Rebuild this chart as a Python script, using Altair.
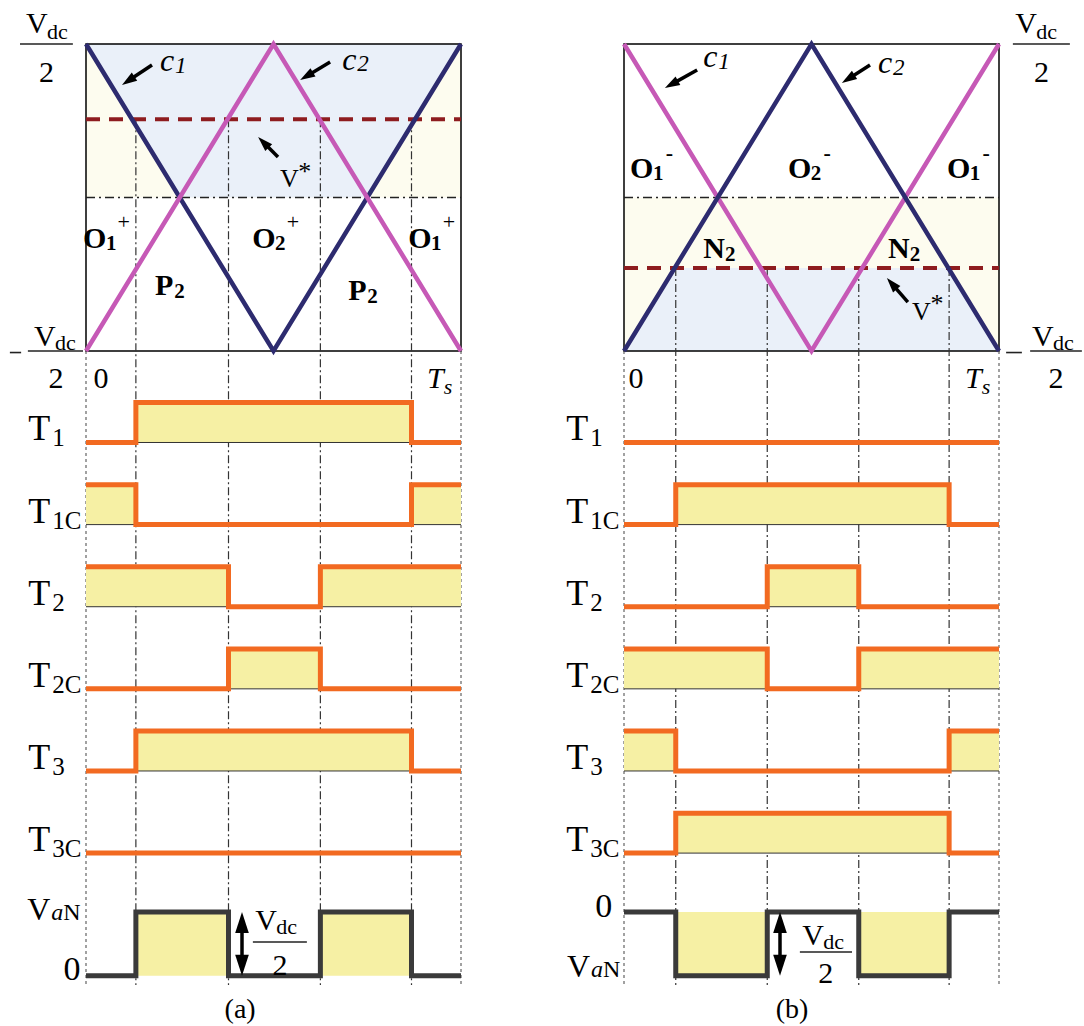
import math
import altair as alt
import pandas as pd

FONT = "Liberation Serif"
NAVY = "#2d2b6f"
MAGENTA = "#c659b6"
VREF_COLOR = "#8e1c1f"
ORANGE = "#f26a21"
FILL = "#f6f0a4"
DARK = "#3a3a3a"
BLUE = "#eaf0f9"
TINT = "#fdfcef"

# ---- data: one switching period, t in Ts, carrier level in units of Vdc/2 ----
CARRIER_T = [0.0, 0.5, 1.0]
CARRIER_DOWN = [1.0, -1.0, 1.0]   # starts at +Vdc/2
CARRIER_UP = [-1.0, 1.0, -1.0]    # starts at -Vdc/2

VREF = {"a": 0.51, "b": -0.46}
EDGES = {"a": [0.133, 0.380, 0.625, 0.868], "b": [0.138, 0.382, 0.626, 0.867]}

# light-blue region inside the carrier box
BLUE_T = {"a": [0.0, 0.25, 0.75, 1.0], "b": [0.0, 0.135, 0.865, 1.0]}
BLUE_LO = {"a": [1.0, 0.0, 0.0, 1.0], "b": [-1.0, -1.0, -1.0, -1.0]}
BLUE_HI = {"a": [1.0, 1.0, 1.0, 1.0], "b": [-1.0, -0.46, -0.46, -1.0]}
TINT_BAND = {"a": (0.0, 1.0), "b": (-1.0, 0.0)}

SIGNALS = ["T1", "T1C", "T2", "T2C", "T3", "T3C"]
STATES = {
    "a": {"T1": [0, 1, 1, 1, 0], "T1C": [1, 0, 0, 0, 1], "T2": [1, 1, 0, 1, 1],
          "T2C": [0, 0, 1, 0, 0], "T3": [0, 1, 1, 1, 0], "T3C": [0, 0, 0, 0, 0]},
    "b": {"T1": [0, 0, 0, 0, 0], "T1C": [0, 1, 1, 1, 0], "T2": [0, 0, 1, 0, 0],
          "T2C": [1, 1, 0, 1, 1], "T3": [1, 0, 0, 0, 1], "T3C": [0, 1, 1, 1, 0]},
}
VAN = {"a": [0, 1, 0, 1, 0], "b": [0, -1, 0, -1, 0]}

# ---- layout (diagram units) ----
PANEL_W = 542
PANEL_H = 1026
BOX_LEFT = {"a": 86, "b": 82}
PX_T = 375.0
PX_L = 153.5
Y_MAX = 1 + 44 / PX_L
Y_MIN = Y_MAX - PANEL_H / PX_L
ROW_LOW0 = -1.596
ROW_PITCH = 0.535
ROW_AMP = 0.26
VAN_TOP = -4.655
VAN_BOT = -5.07
GUIDE_BOTTOM = -5.13
HEAD_SHAPE = "M0,-1L0.65,1L-0.65,1Z"

# annotation arrows: tail (t, level) -> tip (t, level)
ARROWS = [
    ("a", 0.176, 0.863, 0.096, 0.733), ("a", 0.651, 0.883, 0.571, 0.765),
    ("a", 0.512, 0.264, 0.459, 0.394),
    ("b", 0.195, 0.831, 0.109, 0.713), ("b", 0.656, 0.863, 0.581, 0.746),
    ("b", 0.757, -0.681, 0.701, -0.524),
]
DOUBLE_T = {"a": 0.416, "b": 0.416}

# fraction bars / minus signs: (panel, t, t2, level)
BARS = [
    ("a", -0.176, -0.035, 1.0), ("a", -0.155, -0.008, -1.0), ("a", -0.203, -0.173, -1.01),
    ("a", 0.445, 0.589, -4.850),
    ("b", 1.037, 1.189, 1.0), ("b", 1.083, 1.221, -1.0), ("b", 1.019, 1.061, -1.01),
    ("b", 0.469, 0.608, -4.915),
]

TEXTS = []


def add(p, text, t, y, size, style="normal", align="left"):
    TEXTS.append(dict(panel=p, text=text, t=t, y=y, size=size, style=style, align=align))


# axis fractions, 0 and Ts
add("a", "V", -0.160, 1.07, 30); add("a", "dc", -0.104, 1.03, 22); add("a", "2", -0.1055, 0.752, 30, align="center")
add("a", "V", -0.139, -0.967, 30); add("a", "dc", -0.083, -0.993, 22); add("a", "2", -0.080, -1.241, 30, align="center")
add("b", "V", 1.043, 1.07, 30); add("b", "dc", 1.099, 1.03, 22); add("b", "2", 1.113, 0.752, 30, align="center")
add("b", "V", 1.088, -0.967, 30); add("b", "dc", 1.144, -0.993, 22); add("b", "2", 1.152, -1.241, 30, align="center")
for p, z in (("a", 0.04), ("b", 0.032)):
    add(p, "0", z, -1.241, 30, align="center")
    add(p, "T", 0.909, -1.241, 30, "italic")
    add(p, "s", 0.954, -1.28, 22, "italic")

# region labels
for t, sub in ((-0.008, "1"), (0.443, "2"), (0.859, "1")):
    add("a", "O", t, -0.329, 30, "bold")
    add("a", sub, t + 0.061, -0.342, 21, "bold")
    add("a", "+", t + 0.092, -0.205, 22)
add("a", "P", 0.184, -0.635, 30, "bold"); add("a", "2", 0.184 + 0.051, -0.655, 21, "bold")
add("a", "P", 0.699, -0.668, 30, "bold"); add("a", "2", 0.699 + 0.051, -0.687, 21, "bold")
for t, sub in ((0.016, "1"), (0.437, "2"), (0.861, "1")):
    add("b", "O", t, 0.127, 30, "bold")
    add("b", sub, t + 0.061, 0.114, 21, "bold")
    add("b", "-", t + 0.095, 0.244, 22, "bold")
add("b", "N", 0.211, -0.394, 30, "bold"); add("b", "2", 0.211 + 0.058, -0.414, 21, "bold")
add("b", "N", 0.704, -0.394, 30, "bold"); add("b", "2", 0.704 + 0.058, -0.414, 21, "bold")

# carrier and reference names
add("a", "c", 0.197, 0.824, 32, "italic"); add("a", "1", 0.197 + 0.040, 0.811, 23, "italic")
add("a", "c", 0.683, 0.830, 32, "italic"); add("a", "2", 0.683 + 0.040, 0.824, 23, "italic")
add("a", "V", 0.517, 0.068, 26); add("a", "*", 0.566, 0.114, 26)
add("b", "c", 0.211, 0.850, 32, "italic"); add("b", "1", 0.211 + 0.040, 0.837, 23, "italic")
add("b", "c", 0.677, 0.811, 32, "italic"); add("b", "2", 0.677 + 0.040, 0.800, 23, "italic")
add("b", "V", 0.768, -0.798, 26); add("b", "*", 0.817, -0.746, 26)

# switch rows
for p in ("a", "b"):
    for k, sig in enumerate(SIGNALS):
        low = ROW_LOW0 - k * ROW_PITCH
        add(p, "T", -0.154, low + 0.013, 36)
        add(p, sig[1:], -0.154 + 0.064, low - 0.026, 25)

# pole voltage row
add("a", "V", -0.157, -4.707, 32); add("a", "a", -0.093, -4.707, 24, "italic"); add("a", "N", -0.061, -4.707, 24)
add("a", "0", -0.060, -5.098, 34)
add("b", "0", -0.077, -4.687, 34)
add("b", "V", -0.152, -5.078, 32); add("b", "a", -0.088, -5.078, 24, "italic"); add("b", "N", -0.056, -5.078, 24)
add("a", "V", 0.451, -4.772, 30); add("a", "dc", 0.507, -4.798, 22); add("a", "2", 0.517, -5.065, 30, align="center")
add("b", "V", 0.475, -4.870, 30); add("b", "dc", 0.531, -4.896, 22); add("b", "2", 0.538, -5.117, 30, align="center")

# captions
add("a", "(a)", 0.411, -5.345, 28, align="center")
add("b", "(b)", 0.448, -5.345, 28, align="center")


def head(tip_t, tip_y, ux, uy, length):
    """Arrow-head centre and rotation for a head whose tip sits at (tip_t, tip_y)."""
    ct = tip_t - ux * length / 2 / PX_T
    cy = tip_y + uy * length / 2 / PX_L
    ang = math.degrees(math.atan2(ux, -uy)) % 360
    return ct, cy, ang


def panel_chart(p):
    xs = alt.Scale(domain=[-BOX_LEFT[p] / PX_T, (PANEL_W - BOX_LEFT[p]) / PX_T], nice=False, zero=False)
    ys = alt.Scale(domain=[Y_MIN, Y_MAX], nice=False, zero=False)

    def X(f="t"):
        return alt.X(f"{f}:Q", scale=xs, axis=None)

    def Y(f="y"):
        return alt.Y(f"{f}:Q", scale=ys, axis=None, stack=None)

    layers = []
    lo, hi = TINT_BAND[p]
    box = pd.DataFrame([dict(t=0.0, t2=1.0, y=-1.0, y2=1.0)])
    layers.append(alt.Chart(pd.DataFrame([dict(t=0.0, t2=1.0, y=lo, y2=hi)])).mark_rect(color=TINT)
                  .encode(x=X(), x2="t2:Q", y=Y(), y2="y2:Q"))
    blue = pd.DataFrame(dict(t=BLUE_T[p], y=BLUE_LO[p], y2=BLUE_HI[p]))
    layers.append(alt.Chart(blue).mark_area(color=BLUE, opacity=1)
                  .encode(x=X(), y=Y(), y2="y2:Q"))
    layers.append(alt.Chart(box).mark_rect(filled=False, stroke="black", strokeWidth=1.5)
                  .encode(x=X(), x2="t2:Q", y=Y(), y2="y2:Q"))
    layers.append(alt.Chart(pd.DataFrame([dict(t=0.0, t2=1.0, y=0.0)]))
                  .mark_rule(color="#222", strokeWidth=1.3, strokeDash=[9, 4, 2, 4])
                  .encode(x=X(), x2="t2:Q", y=Y()))
    # guide lines through the switching instants
    guides = pd.DataFrame(dict(t=EDGES[p], y=[VREF[p]] * 4, y2=[GUIDE_BOTTOM] * 4))
    layers.append(alt.Chart(guides).mark_rule(color="#333", strokeWidth=1.2, strokeDash=[8, 3, 2, 3])
                  .encode(x=X(), y=Y(), y2="y2:Q"))
    ends = pd.DataFrame(dict(t=[0.0, 1.0], y=[-1.0, -1.0], y2=[GUIDE_BOTTOM] * 2))
    layers.append(alt.Chart(ends).mark_rule(color="#555", strokeWidth=1.1, strokeDash=[3, 3])
                  .encode(x=X(), y=Y(), y2="y2:Q"))
    # reference
    layers.append(alt.Chart(pd.DataFrame([dict(t=0.0, t2=1.0, y=VREF[p])]))
                  .mark_rule(color=VREF_COLOR, strokeWidth=4, strokeDash=[14, 9])
                  .encode(x=X(), x2="t2:Q", y=Y()))
    # carriers
    down_col, up_col = (NAVY, MAGENTA) if p == "a" else (MAGENTA, NAVY)
    for vals, col in ((CARRIER_DOWN, down_col), (CARRIER_UP, up_col)):
        layers.append(alt.Chart(pd.DataFrame(dict(t=CARRIER_T, y=vals)))
                      .mark_line(color=col, strokeWidth=4.5, strokeJoin="miter")
                      .encode(x=X(), y=Y()))

    # switching waveforms
    bounds = [0.0] + EDGES[p] + [1.0]
    rows = []
    base = []
    for k, sig in enumerate(SIGNALS):
        low = ROW_LOW0 - k * ROW_PITCH
        st = STATES[p][sig] + [STATES[p][sig][-1]]
        for i, (t, s) in enumerate(zip(bounds, st)):
            rows.append(dict(sig=sig, i=i, t=t, y=low + s * ROW_AMP, y2=low))
        base.append(dict(t=0.0, t2=1.0, y=low))
    wf = pd.DataFrame(rows)
    layers.append(alt.Chart(wf).mark_area(color=FILL, interpolate="step-after", opacity=1)
                  .encode(x=X(), y=Y(), y2="y2:Q", detail="sig:N"))
    layers.append(alt.Chart(pd.DataFrame(base)).mark_rule(color="#333", strokeWidth=1)
                  .encode(x=X(), x2="t2:Q", y=Y()))
    layers.append(alt.Chart(wf).mark_line(color=ORANGE, strokeWidth=5, interpolate="step-after",
                                          strokeJoin="miter", strokeCap="butt")
                  .encode(x=X(), y=Y(), detail="sig:N", order="i:Q"))

    # pole voltage
    zero = VAN_BOT if p == "a" else VAN_TOP
    amp = VAN_TOP - VAN_BOT
    st = VAN[p] + [VAN[p][-1]]
    van = pd.DataFrame([dict(i=i, t=t, y=zero + s * amp, y2=zero) for i, (t, s) in enumerate(zip(bounds, st))])
    layers.append(alt.Chart(van).mark_area(color=FILL, interpolate="step-after", opacity=1)
                  .encode(x=X(), y=Y(), y2="y2:Q"))
    layers.append(alt.Chart(van).mark_line(color=DARK, strokeWidth=5, interpolate="step-after",
                                           strokeJoin="miter")
                  .encode(x=X(), y=Y(), order="i:Q"))

    # arrows
    shafts, heads = [], []
    for q, t0, y0, t1, y1 in ARROWS:
        if q != p:
            continue
        dxp = (t1 - t0) * PX_T
        dyp = -(y1 - y0) * PX_L
        L = math.hypot(dxp, dyp)
        ux, uy = dxp / L, dyp / L
        ct, cy, ang = head(t1, y1, ux, uy, 15)
        shafts.append(dict(t=t0, y=y0, t2=ct, y2=cy))
        heads.append(dict(t=ct, y=cy, ang=ang, sz=225))
    td = DOUBLE_T[p]
    ytop = head(td, VAN_TOP, 0.0, -1.0, 21)[1]
    ybot = head(td, VAN_BOT, 0.0, 1.0, 21)[1]
    heads.append(dict(t=td, y=ytop, ang=0.0, sz=441))
    heads.append(dict(t=td, y=ybot, ang=180.0, sz=441))
    shafts.append(dict(t=td, y=ytop, t2=td, y2=ybot))
    layers.append(alt.Chart(pd.DataFrame(shafts)).mark_rule(color="black", strokeWidth=3.5)
                  .encode(x=X(), y=Y(), x2="t2:Q", y2="y2:Q"))
    layers.append(alt.Chart(pd.DataFrame(heads))
                  .mark_point(shape=HEAD_SHAPE, filled=True, color="black", opacity=1, strokeWidth=0)
                  .encode(x=X(), y=Y(), angle=alt.Angle("ang:Q", scale=None),
                          size=alt.Size("sz:Q", scale=None)))

    bars = pd.DataFrame([dict(t=a, t2=b, y=c) for q, a, b, c in BARS if q == p])
    layers.append(alt.Chart(bars).mark_rule(color="#222", strokeWidth=1.6)
                  .encode(x=X(), x2="t2:Q", y=Y()))

    # text, grouped by style
    tx = pd.DataFrame(TEXTS)
    tx = tx[tx.panel == p]
    styles = {"normal": ("normal", "normal"), "italic": ("italic", "normal"), "bold": ("normal", "bold")}
    for (style, align), g in tx.groupby(["style", "align"]):
        fs, fw = styles[style]
        layers.append(alt.Chart(g).mark_text(font=FONT, fontStyle=fs, fontWeight=fw, align=align,
                                             baseline="alphabetic", color="black")
                      .encode(x=X(), y=Y(), text="text:N", size=alt.Size("size:Q", scale=None)))

    return alt.layer(*layers).properties(width=PANEL_W, height=PANEL_H)


chart = (
    alt.hconcat(panel_chart("a"), panel_chart("b"), spacing=0)
    .configure_view(stroke=None)
    .properties(padding=0, background="white")
)
chart.save("out.html", embed_options={"renderer": "svg", "actions": False})
